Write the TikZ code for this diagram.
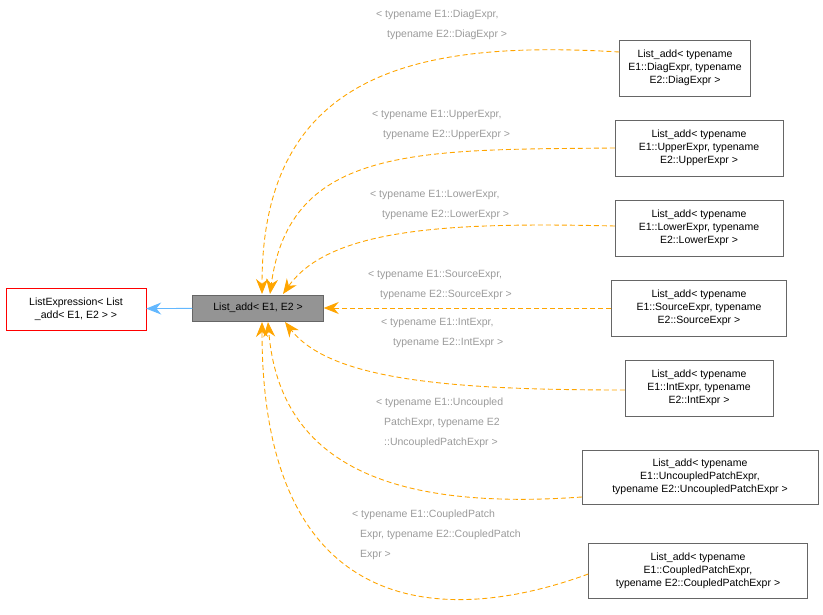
\documentclass[tikz,border=0pt]{standalone}
\usepackage{fontspec}
\setmainfont{Liberation Sans}
\usetikzlibrary{arrows.meta}
\definecolor{edgeorange}{HTML}{FFA500}
\definecolor{labelgray}{HTML}{9A9A9A}
\definecolor{inhblue}{HTML}{63B8FF}
\tikzset{box/.style={rectangle, draw=black!60, align=center, font=\fontsize{10.5}{13}\selectfont, inner sep=2pt}}
\tikzset{use/.style={dashed, line width=0.9pt, dash pattern=on 5pt off 3pt, edgeorange, -{Stealth[length=15pt,width=12pt]}}}
\tikzset{elabel/.style={anchor=north west, align=left, text=labelgray, font=\fontsize{10.5}{20}\selectfont, inner sep=0pt}}
\begin{document}
\begin{tikzpicture}[x=1pt, y=-1pt]
    \useasboundingbox (0,0) rectangle (823,615);

    \node [box, draw=red, minimum width=140pt, minimum height=42pt] (expr) at (76,309) {ListExpression< List\\\_add< E1, E2 > >};
    \node [box, fill=black!42, minimum width=131pt, minimum height=26pt] (add) at (258,308) {List\_add< E1, E2 >};

    \node [box, minimum width=131pt, minimum height=56pt] (diag) at (685,68) {List\_add< typename\\E1::DiagExpr, typename\\E2::DiagExpr >};
    \node [box, minimum width=168pt, minimum height=56pt] (upper) at (699,148) {List\_add< typename\\E1::UpperExpr, typename\\E2::UpperExpr >};
    \node [box, minimum width=168pt, minimum height=56pt] (lower) at (699,228) {List\_add< typename\\E1::LowerExpr, typename\\E2::LowerExpr >};
    \node [box, minimum width=175pt, minimum height=56pt] (source) at (699,308) {List\_add< typename\\E1::SourceExpr, typename\\E2::SourceExpr >};
    \node [box, minimum width=148pt, minimum height=56pt] (int) at (699,388) {List\_add< typename\\E1::IntExpr, typename\\E2::IntExpr >};
    \node [box, minimum width=236pt, minimum height=54pt] (uncoupled) at (700,477) {List\_add< typename\\E1::UncoupledPatchExpr,\\typename E2::UncoupledPatchExpr >};
    \node [box, minimum width=219pt, minimum height=55pt] (coupled) at (698,571) {List\_add< typename\\E1::CoupledPatchExpr,\\typename E2::CoupledPatchExpr >};

    % inheritance
    \draw [inhblue, line width=0.9pt, -{Stealth[length=15pt,width=12pt]}] (add) -- (expr);

    % usage edges
    \draw [use] (diag.west |- 0,52) .. controls (420,40) and (262,70) .. (262,294);
    \draw [use] (upper.west |- 0,148) .. controls (420,150) and (290,145) .. (270,294);
    \draw [use] (lower.west |- 0,226) .. controls (450,222) and (330,228) .. (283,294);
    \draw [use] (source) -- (add);
    \draw [use] (int.west |- 0,390) .. controls (450,390) and (330,380) .. (285,322);
    \draw [use] (uncoupled.west |- 0,497) .. controls (400,510) and (280,470) .. (268,322);
    \draw [use] (coupled.west |- 0,574) .. controls (450,625) and (262,625) .. (262,322);

    % edge labels
    \node [elabel] (ldiag) at (376,10) {< typename E1::DiagExpr,\\\hspace{11pt}typename E2::DiagExpr >};
    \node [elabel] (lupper) at (372,110) {< typename E1::UpperExpr,\\\hspace{11pt}typename E2::UpperExpr >};
    \node [elabel] (llower) at (370,190) {< typename E1::LowerExpr,\\\hspace{12pt}typename E2::LowerExpr >};
    \node [elabel] (lsource) at (368,270) {< typename E1::SourceExpr,\\\hspace{12pt}typename E2::SourceExpr >};
    \node [elabel] (lint) at (381,318) {< typename E1::IntExpr,\\\hspace{12pt}typename E2::IntExpr >};
    \node [elabel] (luncoupled) at (376,398) {< typename E1::Uncoupled\\\hspace{8pt}PatchExpr, typename E2\\\hspace{8pt}::UncoupledPatchExpr >};
    \node [elabel] (lcoupled) at (352,510) {< typename E1::CoupledPatch\\\hspace{8pt}Expr, typename E2::CoupledPatch\\\hspace{8pt}Expr >};
\end{tikzpicture}
\end{document}
